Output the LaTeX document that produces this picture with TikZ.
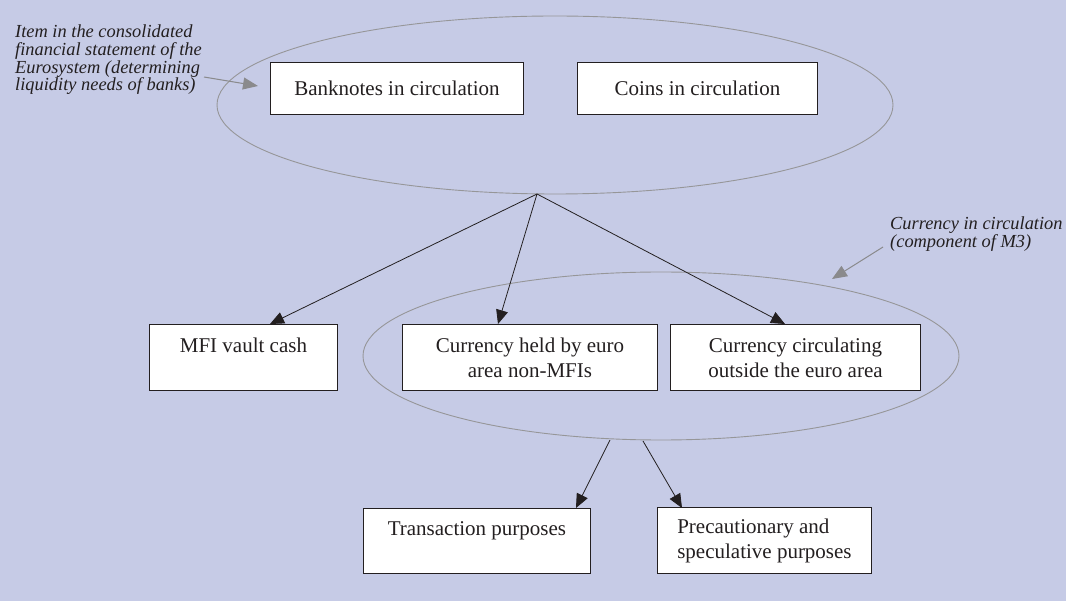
\documentclass[tikz,border=0pt]{standalone}
\usepackage{fontspec}
\setmainfont{Liberation Serif}
\usetikzlibrary{arrows.meta,shapes.geometric}
\definecolor{bg}{RGB}{198,203,230}
\definecolor{ink}{RGB}{35,31,32}
\definecolor{ringgray}{RGB}{150,150,152}
\definecolor{notegray}{RGB}{138,138,140}
\begin{document}
\begin{tikzpicture}[x=1pt,y=-1pt,
  box/.style={draw=ink, line width=0.9pt, fill=white, text=ink, inner sep=0pt,
    align=center, anchor=north west, font=\fontsize{21}{25}\selectfont},
  ring/.style={draw=ringgray, line width=0.9pt, ellipse, inner sep=0pt},
  link/.style={draw=ink, line width=0.8pt, -{Triangle[length=14pt,width=12pt]}},
  note/.style={text=ink, inner sep=0pt, align=left, anchor=north west,
    font=\fontsize{18.4}{17.6}\selectfont\itshape},
  notearrow/.style={draw=notegray, line width=1pt, -{Triangle[length=15pt,width=12pt]}}]
\useasboundingbox (0,0) rectangle (1066,601);
\fill[bg] (0,0) rectangle (1066,601);

% rings
\node[ring, minimum width=676pt, minimum height=178pt] (topring) at (555,105) {};
\node[ring, minimum width=596pt, minimum height=168pt] (mring) at (661,356) {};

% connector end points
\coordinate (apex) at (537,194);
\coordinate (tmfi) at (270,324);
\coordinate (theld) at (498,324);
\coordinate (tcirc) at (785,324);
\coordinate (ma) at (610,440);
\coordinate (mb) at (643,441);
\coordinate (ttrans) at (576,508);
\coordinate (tprec) at (682,508);

\draw[link] (apex) -- (tmfi);
\draw[link] (apex) -- (theld);
\draw[link] (apex) -- (tcirc);
\draw[link] (ma) -- (ttrans);
\draw[link] (mb) -- (tprec);

% boxes
\node[box, minimum width=253pt, minimum height=52pt] (bank) at (270,62) {Banknotes in circulation};
\node[box, minimum width=240pt, minimum height=52pt] (coin) at (577,62) {Coins in circulation};
\node[box, minimum width=188pt, minimum height=66pt] (mfi) at (149,324) {MFI vault cash\\\mbox{}};
\node[box, minimum width=255pt, minimum height=66pt] (held) at (402,324) {Currency held by euro\\area non-MFIs};
\node[box, minimum width=250pt, minimum height=66pt] (circ) at (670,324) {Currency circulating\\outside the euro area};
\node[box, minimum width=227pt, minimum height=65pt] (trans) at (363,508) {Transaction purposes\\\mbox{}};
\node[box, minimum width=214pt, minimum height=66pt, align=left] (prec) at (657,507) {Precautionary and\\speculative purposes};

% annotations
\node[note] (noteA) at (15,25) {Item in the consolidated\\financial statement of the\\Eurosystem (determining\\liquidity needs of banks)};
\node[note] (noteB) at (890,217) {Currency in circulation\\(component of M3)};
\coordinate (naS) at (204,77);
\coordinate (naT) at (258,86);
\coordinate (nbS) at (883,247);
\coordinate (nbT) at (832,279);
\draw[notearrow] (naS) -- (naT);
\draw[notearrow] (nbS) -- (nbT);
\end{tikzpicture}
\end{document}
